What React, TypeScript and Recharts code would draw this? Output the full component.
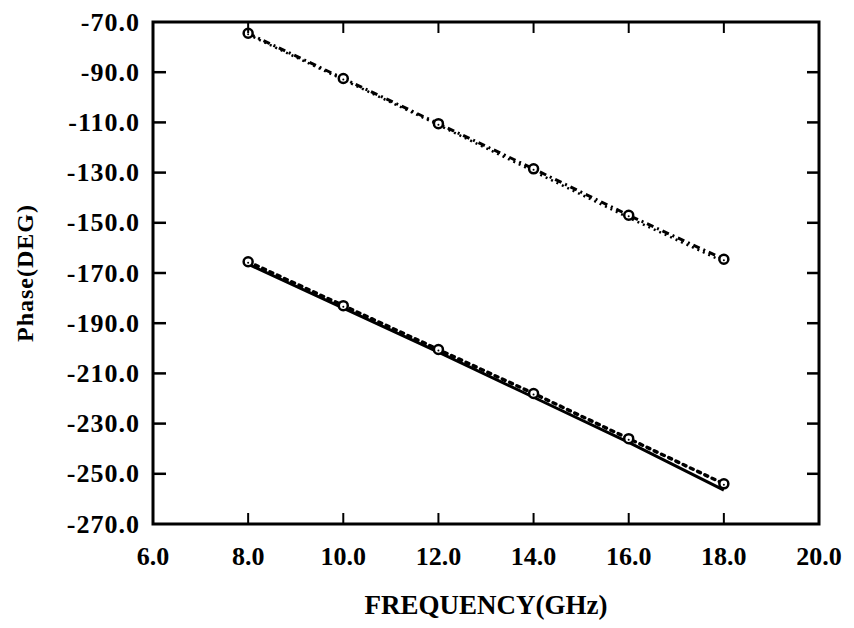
import React from 'react';
import { Label, LineChart, Line, ReferenceArea, XAxis, YAxis } from 'recharts';

// frequency points (GHz)
const freq = [8, 10, 12, 14, 16, 18];

// upper pair (dash-dot with markers, dotted)
const upperMarked = [-74.5, -92.5, -110.5, -128.5, -147, -164.5];
const upperDotted = [-75, -93, -111, -129.5, -148, -165.5];

// lower pair (dashed with markers, solid)
const lowerMarked = [-165.5, -183, -200.5, -218, -236, -254];
const lowerSolid = [-166.5, -184, -201.5, -219.5, -237.5, -256.5];

const xTicks = [6, 8, 10, 12, 14, 16, 18, 20];
const yTicks = [-70, -90, -110, -130, -150, -170, -190, -210, -230, -250, -270];

const W = 854;
const H = 628;
const TOP = 22;
const LEFT = 153;
const RIGHT = 819;
const BOTTOM = 524;

const FONT = '"Liberation Serif", "Times New Roman", serif';

const data = freq.map((f, i) => ({
    f,
    um: upperMarked[i],
    ud: upperDotted[i],
    lm: lowerMarked[i],
    ls: lowerSolid[i]
}));

const XTick = (props: any) => {
    const { x, y, payload } = props;
    const edge = payload.value === 6 || payload.value === 20;
    return (
        <g>
            {!edge && <line x1={x} x2={x} y1={y} y2={y - 11} stroke="#000" strokeWidth={2} />}
            {!edge && <line x1={x} x2={x} y1={TOP} y2={TOP + 11} stroke="#000" strokeWidth={2} />}
            <text x={x} y={y + 32} textAnchor="middle" dominantBaseline="central"
                fontFamily={FONT} fontWeight="bold" fontSize={26} fill="#000">
                {payload.value.toFixed(1)}
            </text>
        </g>
    );
};

const YTick = (props: any) => {
    const { x, y, payload } = props;
    const edge = payload.value === -70 || payload.value === -270;
    return (
        <g>
            {!edge && <line x1={x} x2={x + 13} y1={y} y2={y} stroke="#000" strokeWidth={2.5} />}
            {!edge && <line x1={RIGHT - 12} x2={RIGHT} y1={y} y2={y} stroke="#000" strokeWidth={2.5} />}
            <text x={x - 13} y={y} textAnchor="end" dominantBaseline="central"
                fontFamily={FONT} fontWeight="bold" fontSize={26} letterSpacing={1} fill="#000">
                {payload.value.toFixed(1)}
            </text>
        </g>
    );
};

const Marker = (props: any) => {
    const { cx, cy, index } = props;
    if (cx == null || cy == null) return <g key={index} />;
    return (
        <g key={index}>
            <circle cx={cx} cy={cy} r={4.5} stroke="#000" strokeWidth={2.5} fill="#fff" />
            <circle cx={cx} cy={cy + 1} r={1} fill="#000" />
        </g>
    );
};

export default function App() {
    return (
        <div style={{ position: 'absolute', left: 0, top: 0, background: '#fff' }}>
            <LineChart width={W} height={H} data={data}
                margin={{ top: TOP, right: W - RIGHT, left: 0, bottom: 0 }}>
                <XAxis dataKey="f" type="number" domain={[6, 20]} ticks={xTicks} interval={0}
                    height={H - BOTTOM} axisLine={false} tickLine={false} tickSize={0} tickMargin={0}
                    tick={XTick}>
                    <Label value="FREQUENCY(GHz)" position="insideBottom" offset={14}
                        style={{ fontFamily: FONT, fontWeight: 900, fontSize: 27, fill: '#000' }} />
                </XAxis>
                <YAxis type="number" domain={[-270, -70]} ticks={yTicks} interval={0}
                    width={LEFT} axisLine={false} tickLine={false} tickSize={0} tickMargin={0}
                    tick={YTick}>
                    <Label value="Phase(DEG)" angle={-90} position="insideLeft" offset={24}
                        style={{ textAnchor: 'middle', fontFamily: FONT, fontWeight: 'bold', fontSize: 24, letterSpacing: 1, fill: '#000' }} />
                </YAxis>
                <ReferenceArea x1={6} x2={20} y1={-270} y2={-70} fill="none" stroke="#000" strokeWidth={3} />
                <Line dataKey="ud" stroke="#000" strokeWidth={2.5} strokeDasharray="2 4"
                    dot={false} isAnimationActive={false} />
                <Line dataKey="um" stroke="#000" strokeWidth={3} strokeDasharray="7 4 2 4"
                    dot={Marker} isAnimationActive={false} />
                <Line dataKey="ls" stroke="#000" strokeWidth={3}
                    dot={false} isAnimationActive={false} />
                <Line dataKey="lm" stroke="#000" strokeWidth={3.5} strokeDasharray="3 5" strokeLinecap="round"
                    dot={Marker} isAnimationActive={false} />
            </LineChart>
        </div>
    );
}
